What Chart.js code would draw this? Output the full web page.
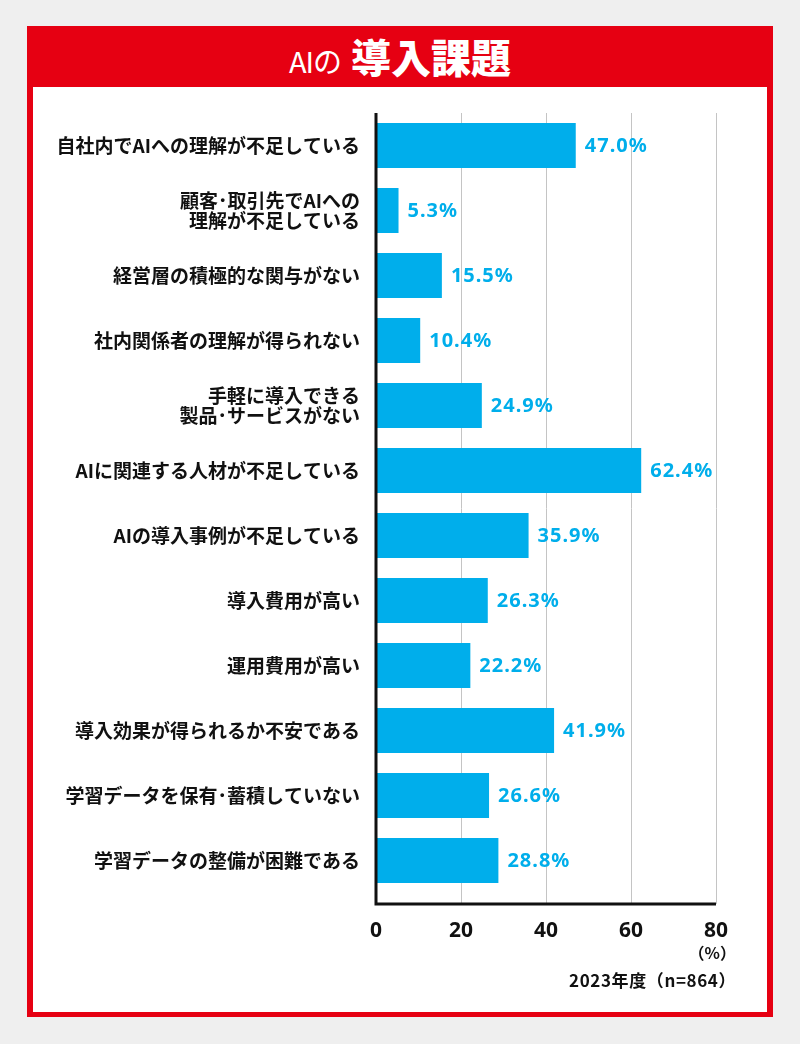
<!DOCTYPE html>
<html lang="ja">
<head>
<meta charset="utf-8">
<script src="https://cdn.jsdelivr.net/npm/chart.js@4/dist/chart.umd.min.js"></script>
<style>
  html, body { margin: 0; padding: 0; }
  body { width: 800px; height: 1044px; background: #efefef; position: relative; overflow: hidden;
         font-family: "Noto Sans CJK JP", "Noto Sans", sans-serif; }
  #frame { position: absolute; left: 27px; top: 26px; width: 746px; height: 991px; background: #e60012; }
  #inner { position: absolute; left: 33px; top: 87px; width: 734px; height: 925px; background: #fff; }
  #title { position: absolute; left: 0; top: 26px; width: 800px; height: 61px; line-height: 61px;
           text-align: center; color: #fff; white-space: nowrap; }
  #title .small { font-size: 29px; font-weight: 400; letter-spacing: -1px; }
  #title .big { font-size: 40px; font-weight: 900; margin-left: 10px; }
  #chart { position: absolute; left: 0; top: 0; }
  .note { position: absolute; right: 64px; color: #111; font-weight: 700; white-space: nowrap; }
  #unit { top: 940px; font-size: 16px; }
  #base { top: 967px; font-size: 17px; letter-spacing: 0.6px; }
</style>
</head>
<body>
<div id="frame"></div>
<div id="inner"></div>
<div id="title"><span class="small">AIの</span><span class="big">導入課題</span></div>
<canvas id="chart" width="800" height="1044"></canvas>
<div class="note" id="unit">（%）</div>
<div class="note" id="base">2023年度（n=864）</div>
<script>
const categories = [
    "自社内でAIへの理解が不足している",
    ["顧客･取引先でAIへの", "理解が不足している"],
    "経営層の積極的な関与がない",
    "社内関係者の理解が得られない",
    ["手軽に導入できる", "製品･サービスがない"],
    "AIに関連する人材が不足している",
    "AIの導入事例が不足している",
    "導入費用が高い",
    "運用費用が高い",
    "導入効果が得られるか不安である",
    "学習データを保有･蓄積していない",
    "学習データの整備が困難である",
];
const values = [47.0, 5.3, 15.5, 10.4, 24.9, 62.4, 35.9, 26.3, 22.2, 41.9, 26.6, 28.8];
const xTicks = [0, 20, 40, 60, 80];

const BLUE = "#00aeeb";

// gridlines + axis lines (axis runs a bit below the last category)
const axisPlugin = {
    id: "axisLines",
    beforeDatasetsDraw(chart) {
        const { ctx, chartArea, scales } = chart;
        const bottom = chartArea.bottom + 11;
        ctx.save();
        ctx.strokeStyle = "#c4c4c4";
        ctx.lineWidth = 1;
        xTicks.slice(1).forEach((t) => {
            const x = Math.round(scales.x.getPixelForValue(t)) + 0.5;
            ctx.beginPath();
            ctx.moveTo(x, chartArea.top);
            ctx.lineTo(x, bottom);
            ctx.stroke();
        });
        ctx.restore();
    },
    afterDatasetsDraw(chart) {
        const { ctx, chartArea, scales } = chart;
        const bottom = chartArea.bottom + 11;
        const x0 = scales.x.getPixelForValue(0);
        const x1 = scales.x.getPixelForValue(80);
        ctx.save();
        ctx.strokeStyle = "#111";
        ctx.lineWidth = 3;
        ctx.beginPath();
        ctx.moveTo(x0, chartArea.top);
        ctx.lineTo(x0, bottom);
        ctx.lineTo(x1, bottom);
        ctx.stroke();

        // value labels
        ctx.fillStyle = BLUE;
        ctx.font = "700 20px 'Noto Sans', 'Noto Sans CJK JP', sans-serif";
        ctx.textBaseline = "middle";
        ctx.textAlign = "left";
        if ("letterSpacing" in ctx) ctx.letterSpacing = "1px";
        chart.getDatasetMeta(0).data.forEach((bar, i) => {
            ctx.fillText(values[i].toFixed(1) + "%", bar.x + 9, bar.y + 1);
        });
        ctx.restore();
    },
};

new Chart(document.getElementById("chart"), {
    type: "bar",
    data: {
        labels: categories,
        datasets: [
            {
                data: values,
                backgroundColor: BLUE,
                borderWidth: 0,
                barPercentage: 0.695,
                categoryPercentage: 1,
            },
        ],
    },
    options: {
        indexAxis: "y",
        responsive: false,
        animation: false,
        devicePixelRatio: 1,
        layout: { padding: { top: 113, right: 84, bottom: 101, left: 0 } },
        plugins: {
            legend: { display: false },
            tooltip: { enabled: false },
        },
        scales: {
            x: {
                min: 0,
                max: 80,
                afterBuildTicks(scale) {
                    scale.ticks = xTicks.map((v) => ({ value: v }));
                },
                afterFit(scale) {
                    scale.height = 50;
                },
                grid: { display: false, drawTicks: false },
                border: { display: false },
                ticks: {
                    padding: 25,
                    color: "#111",
                    font: { family: "'Noto Sans', sans-serif", size: 21, weight: "700" },
                },
            },
            y: {
                afterFit(scale) {
                    scale.width = 376;
                },
                grid: { display: false, drawTicks: false },
                border: { display: false },
                ticks: {
                    padding: 16,
                    color: "#111",
                    font: { family: "'Noto Sans CJK JP', sans-serif", size: 19, weight: "700", lineHeight: 1.05 },
                },
            },
        },
    },
    plugins: [axisPlugin],
});
</script>
</body>
</html>
